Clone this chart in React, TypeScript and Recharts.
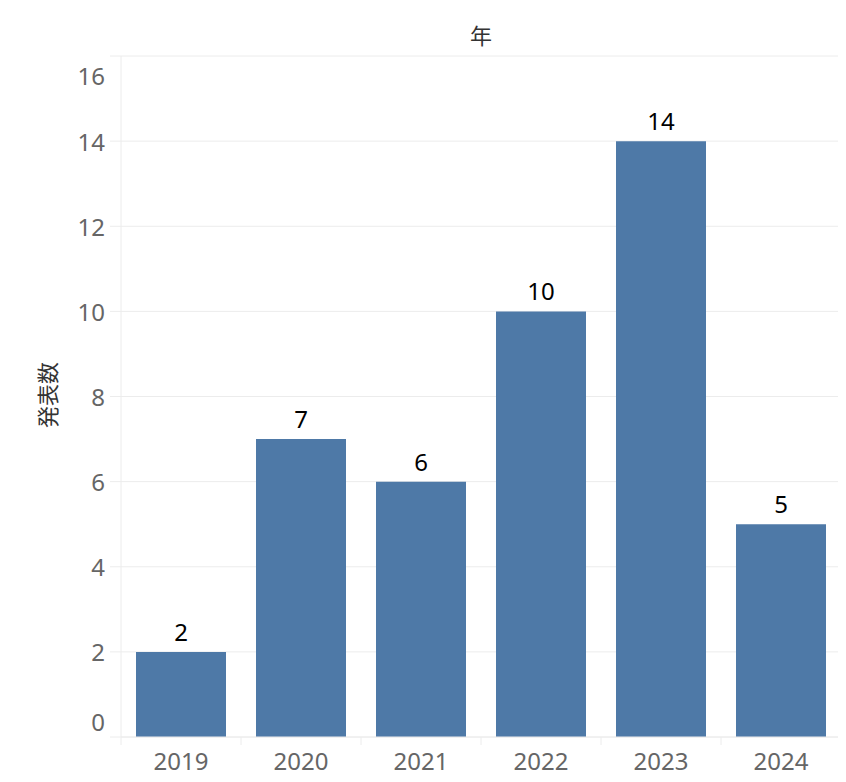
import React from 'react';
import { BarChart, Bar, XAxis, YAxis, CartesianGrid, LabelList } from 'recharts';

const years: string[] = ['2019', '2020', '2021', '2022', '2023', '2024'];
const counts: number[] = [2, 7, 6, 10, 14, 5];
const yTicks: number[] = [0, 2, 4, 6, 8, 10, 12, 14, 16];

const data = years.map((year, i) => ({ year, count: counts[i] }));

const GRID = '#ececec';
const AXIS_TEXT = '#666666';
const FONT = '"Noto Sans", "Noto Sans CJK JP", sans-serif';

const XTick = (props: any) => {
    const { x, y, payload, index } = props;
    const half = 60;
    return (
        <g>
            <line x1={x - half} y1={y - 8} x2={x - half} y2={y} stroke={GRID} strokeWidth={1} />
            {index === years.length - 1 && (
                <line x1={x + half} y1={y - 8} x2={x + half} y2={y} stroke={GRID} strokeWidth={1} />
            )}
            <text x={x} y={y + 25} textAnchor="middle" fill={AXIS_TEXT} fontSize={24} fontFamily={FONT}>
                {payload.value}
            </text>
        </g>
    );
};

// end labels are pulled inside the plot, like Tableau does
const YTick = (props: any) => {
    const { x, y, payload, index } = props;
    let shift = 0;
    if (index === 0) shift = -16;
    if (index === yTicks.length - 1) shift = 19;
    return (
        <text x={x} y={y + shift} textAnchor="end" dominantBaseline="central"
              fill={AXIS_TEXT} fontSize={24} fontFamily={FONT}>
            {payload.value}
        </text>
    );
};

const App = () => (
    <div style={{ position: 'relative', width: 838, height: 774 }}>
        <BarChart width={838} height={774} data={data}
                  margin={{ top: 48, right: 5, bottom: 0, left: 0 }}
                  barCategoryGap={15}>
            <CartesianGrid vertical={false} stroke={GRID} />
            <XAxis dataKey="year" axisLine={{ stroke: GRID }} tickLine={false} tick={<XTick />} interval={0} height={45} />
            <YAxis domain={[0, 16]} ticks={yTicks} width={113} axisLine={{ stroke: GRID }}
                   tickLine={{ stroke: GRID }} tickSize={11} tickMargin={5}
                   tick={<YTick />} />
            <Bar dataKey="count" fill="#4e79a7" isAnimationActive={false}>
                <LabelList dataKey="count" position="top" offset={11} fill="#000" fontSize={24} fontFamily={FONT} />
            </Bar>
            <text x={473} y={36} textAnchor="middle" fill="#333" fontSize={22} fontFamily={FONT}>年</text>
            <text x={39} y={387} textAnchor="middle" fill="#333" fontSize={22} fontFamily={FONT}
                  transform="rotate(-90 39 387)" dominantBaseline="central">発表数</text>
        </BarChart>
    </div>
);

export default App;
